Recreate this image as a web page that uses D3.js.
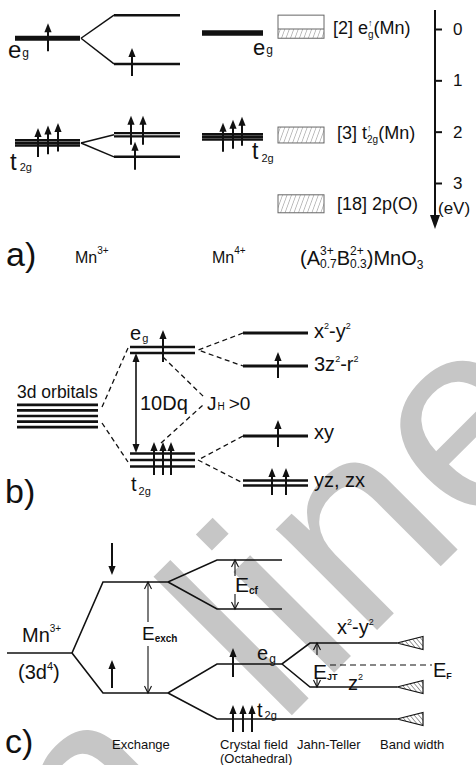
<!DOCTYPE html>
<html>
<head>
<meta charset="utf-8">
<script src="https://cdn.jsdelivr.net/npm/d3@7"></script>
<style>
  body { margin: 0; background: #fff; }
  svg { display: block; }
</style>
</head>
<body>
<div id="fig"></div>
<script>
// ---- data ----
// panel a) energies in eV (0 at top, positive downwards)
const aTicks = [0, 1, 2, 3];
const mn3Levels = [0.18, 2.22];              // e_g, t_2g (cubic)
const mn3Split = [-0.27, 0.68, 2.06, 2.49];   // e_g up, e_g down, t_2g up, t_2g down
const mn4Levels = [0.08, 2.10];               // e_g, t_2g
const bandTop = [-0.27, 1.91, 3.23];          // [2] e_g, [3] t_2g, [18] 2p(O)
const bandBottom = [0.18, 2.22, 3.58];
const bandFilledTop = [0.0, 1.91, 3.23];

// panel b) level heights (arbitrary units, up = higher)
const orb3d = 104;
const cubicB = [170, 60];                     // e_g, t_2g
const splitB = [187, 154, 84, 37];            // x2-y2, 3z2-r2, xy, yz/zx

// panel c) level heights (arbitrary units, up = higher)
const mn3C = 112;
const exchC = [183, 72];                      // spin down, spin up
const cfC = [205, 156, 101, 46];              // upper pair, e_g, t_2g
const jtC = [122, 78];                        // x2-y2, z2
const fermiC = 100;
const stepLabels = ['Exchange', 'Crystal field', 'Jahn-Teller', 'Band width'];

const W = 476, H = 765;
const FONT = 'Liberation Sans, Arial, Helvetica, sans-serif';
const INK = '#111';

const svg = d3.select('#fig').append('svg')
    .attr('width', W).attr('height', H)
    .style('font-family', FONT);

const defs = svg.append('defs');
function hatch(id, dir, gap, color) {
    const p = defs.append('pattern').attr('id', id)
        .attr('patternUnits', 'userSpaceOnUse')
        .attr('width', gap).attr('height', gap)
        .attr('patternTransform', 'rotate(' + dir + ')');
    p.append('line').attr('x1', 0).attr('y1', 0).attr('x2', 0).attr('y2', gap)
        .attr('stroke', color).attr('stroke-width', 0.9);
}
hatch('hatchA', 20, 4.2, '#777');
hatch('hatchC', -40, 3.4, '#222');

// watermark behind everything
[['On', -52, 1059], ['line', 279, 728]].forEach(w => {
    svg.append('text')
        .attr('transform', 'translate(' + w[1] + ',' + w[2] + ') rotate(-45)')
        .attr('font-size', 270)
        .attr('fill', '#c6c6c6')
        .text(w[0]);
});

// ---- helpers ----
function rich(g, x, y, parts) {
    let cx = x, held = 0;
    parts.forEach(p => {
        const t = g.append('text')
            .attr('x', cx + (p.dx || 0))
            .attr('y', y + (p.dy || 0))
            .attr('font-size', p.s)
            .attr('font-weight', p.b ? 'bold' : null)
            .attr('fill', INK)
            .text(p.t);
        const w = t.node().getComputedTextLength() + (p.dx || 0);
        if (p.hold) { held = w; }
        else { cx += Math.max(w, held); held = 0; }
    });
}

function level(g, x1, x2, y, n, gap, w) {
    for (let i = 0; i < n; i++) {
        const yy = y + (i - (n - 1) / 2) * gap;
        g.append('line').attr('x1', x1).attr('x2', x2)
            .attr('y1', yy).attr('y2', yy)
            .attr('stroke', INK).attr('stroke-width', w);
    }
}

function spin(g, x, yTail, yTip, hw, hl) {
    hw = hw || 3.6; hl = hl || 9;
    const dir = yTip < yTail ? -1 : 1;
    g.append('line').attr('x1', x).attr('x2', x)
        .attr('y1', yTail).attr('y2', yTip - dir * hl * 0.7)
        .attr('stroke', INK).attr('stroke-width', 2);
    g.append('path')
        .attr('d', 'M' + x + ',' + yTip + 'L' + (x - hw) + ',' + (yTip - dir * hl) +
            'L' + (x + hw) + ',' + (yTip - dir * hl) + 'Z')
        .attr('fill', INK);
}

// thin double arrow with open heads, optional gap for a label
function openArrow(g, x, y1, y2, gapTop, gapBot) {
    const segs = gapTop ? [[y1, gapTop], [gapBot, y2]] : [[y1, y2]];
    segs.forEach(s => g.append('line').attr('x1', x).attr('x2', x)
        .attr('y1', s[0]).attr('y2', s[1]).attr('stroke', INK).attr('stroke-width', 1.1));
    g.append('path').attr('d', 'M' + (x - 3.5) + ',' + (y1 + 7) + 'L' + x + ',' + y1 + 'L' + (x + 3.5) + ',' + (y1 + 7))
        .attr('fill', 'none').attr('stroke', INK).attr('stroke-width', 1.1);
    g.append('path').attr('d', 'M' + (x - 3.5) + ',' + (y2 - 7) + 'L' + x + ',' + y2 + 'L' + (x + 3.5) + ',' + (y2 - 7))
        .attr('fill', 'none').attr('stroke', INK).attr('stroke-width', 1.1);
}

const line = d3.line();
function poly(g, pts, w, dash) {
    g.append('path').attr('d', line(pts))
        .attr('fill', 'none').attr('stroke', INK)
        .attr('stroke-width', w)
        .attr('stroke-dasharray', dash || null)
        .attr('stroke-linejoin', 'miter');
}

// ================= panel a =================
const ga = svg.append('g');
const yA = d3.scaleLinear().domain([0, 3]).range([29, 183]);

// Mn3+ column
level(ga, 15, 80, yA(mn3Levels[0]), 1, 0, 5);
level(ga, 15, 80, yA(mn3Levels[1]), 3, 2.6, 2.5);
level(ga, 114, 180, yA(mn3Split[0]), 1, 0, 2.5);
level(ga, 114, 180, yA(mn3Split[1]), 1, 0, 2.5);
level(ga, 114, 180, yA(mn3Split[2]), 2, 3.3, 2.3);
level(ga, 114, 180, yA(mn3Split[3]), 1, 0, 2.5);
[[0, 0], [0, 1], [1, 2], [1, 3]].forEach(p => {
    poly(ga, [[81, yA(mn3Levels[p[0]])], [114, yA(mn3Split[p[1]])]], 1.5);
});
spin(ga, 48, yA(mn3Levels[0]) + 13, yA(mn3Levels[0]) - 15);
spin(ga, 132, yA(mn3Split[1]) + 12, yA(mn3Split[1]) - 16);
[38, 48, 58].forEach((x, i) => {
    const y = yA(mn3Levels[1]);
    spin(ga, x, y + 14 - i * 2.7, y - 15 - i * 2.5);
});
[131, 143].forEach(x => {
    const y = yA(mn3Split[2]);
    spin(ga, x, y + 10, y - 19);
});
spin(ga, 135, yA(mn3Split[3]) + 13, yA(mn3Split[3]) - 15);
rich(ga, 8, 58, [{ t: 'e', s: 24 }, { t: 'g', s: 12, dy: -1, dx: 1 }]);
rich(ga, 10, 170, [{ t: 't', s: 24 }, { t: '2g', s: 11, dy: 1, dx: 3 }]);

// Mn4+ column
level(ga, 202, 263, yA(mn4Levels[0]), 1, 0, 5.5);
level(ga, 202, 263, yA(mn4Levels[1]), 3, 2.6, 2.5);
[223, 233, 242].forEach((x, i) => {
    const y = yA(mn4Levels[1]);
    spin(ga, x, y + 15 - i * 3, y - 14 - i * 3);
});
rich(ga, 253, 55, [{ t: 'e', s: 22 }, { t: 'g', s: 12, dy: -1, dx: 1 }]);
rich(ga, 252, 159, [{ t: 't', s: 23 }, { t: '2g', s: 11, dy: 3, dx: 3 }]);

// band boxes
bandTop.forEach((t, i) => {
    ga.append('rect').attr('x', 278).attr('width', 46)
        .attr('y', yA(bandFilledTop[i]))
        .attr('height', yA(bandBottom[i]) - yA(bandFilledTop[i]))
        .attr('fill', 'url(#hatchA)');
    ga.append('rect').attr('x', 278).attr('width', 46)
        .attr('y', yA(t)).attr('height', yA(bandBottom[i]) - yA(t))
        .attr('fill', 'none').attr('stroke', '#666').attr('stroke-width', 1);
});
ga.append('line').attr('x1', 278).attr('x2', 324)
    .attr('y1', yA(bandFilledTop[0])).attr('y2', yA(bandFilledTop[0]))
    .attr('stroke', '#666').attr('stroke-width', 1);
rich(ga, 333, 34, [{ t: '[2] e', s: 18 }, { t: '\u2191', s: 9, dy: -8, hold: true }, { t: 'g', s: 10, dy: 4 }, { t: '(Mn)', s: 18 }]);
rich(ga, 337, 139, [{ t: '[3] t', s: 18 }, { t: '\u2191', s: 9, dy: -8, hold: true }, { t: '2g', s: 10, dy: 4 }, { t: '(Mn)', s: 18 }]);
rich(ga, 337, 210, [{ t: '[18] 2p(O)', s: 18 }]);

// energy axis
const axA = ga.append('g').attr('transform', 'translate(435,0)')
    .call(d3.axisRight(yA).tickValues(aTicks).tickSize(7).tickSizeOuter(0).tickPadding(11).tickFormat(d3.format('d')));
axA.select('.domain').remove();
axA.selectAll('.tick line').attr('stroke', INK).attr('stroke-width', 2);
axA.selectAll('.tick text').attr('font-size', 17).attr('font-family', FONT).attr('fill', INK);
ga.append('line').attr('x1', 435).attr('x2', 435).attr('y1', 10).attr('y2', 217)
    .attr('stroke', INK).attr('stroke-width', 2);
ga.append('path').attr('d', 'M430,215L440,215L435,229Z').attr('fill', INK);
rich(ga, 438, 214, [{ t: '(eV)', s: 17 }]);

// captions row
rich(ga, 6, 266, [{ t: 'a)', s: 34 }]);
rich(ga, 75, 263, [{ t: 'Mn', s: 16 }, { t: '3+', s: 10, dy: -9 }]);
rich(ga, 212, 263, [{ t: 'Mn', s: 16 }, { t: '4+', s: 10, dy: -9 }]);
rich(ga, 300, 265, [
    { t: '(A', s: 20 }, { t: '3+', s: 12, dy: -10, hold: true }, { t: '0.7', s: 12, dy: 3 },
    { t: 'B', s: 20 }, { t: '2+', s: 12, dy: -10, hold: true }, { t: '0.3', s: 12, dy: 3 },
    { t: ')MnO', s: 20 }, { t: '3', s: 12, dy: 4 }
]);

// ================= panel b =================
const gb = svg.append('g');
const yB = d3.scaleLinear().domain([0, 100]).range([520, 420]);

level(gb, 17, 98, yB(orb3d), 5, 5.6, 2.7);
level(gb, 130, 195, yB(cubicB[0]), 2, 6, 2.6);
level(gb, 130, 195, yB(cubicB[1]), 3, 6.5, 2.6);
level(gb, 243, 308, yB(splitB[0]), 1, 0, 2.8);
level(gb, 243, 308, yB(splitB[1]), 1, 0, 2.8);
level(gb, 243, 308, yB(splitB[2]), 1, 0, 2.8);
level(gb, 243, 308, yB(splitB[3]), 2, 5, 2.6);

const dashB = '5,3.5';
poly(gb, [[102, yB(orb3d) - 9], [128, yB(cubicB[0]) - 2]], 1.3, dashB);
poly(gb, [[102, yB(orb3d) + 7], [128, yB(cubicB[1]) + 2]], 1.3, dashB);
poly(gb, [[243, yB(splitB[0])], [198, yB(cubicB[0])], [243, yB(splitB[1])]], 1.3, dashB);
poly(gb, [[243, yB(splitB[2])], [198, yB(cubicB[1])], [243, yB(splitB[3])]], 1.3, dashB);
poly(gb, [[163, yB(cubicB[0]) + 7], [204, yB(cubicB[0]) + 47]], 1.3, dashB);
poly(gb, [[161, yB(cubicB[1]) - 17], [203, yB(cubicB[1]) - 55]], 1.3, dashB);

// 10Dq double arrow (filled heads)
{
    const x = 136, y1 = yB(cubicB[0]) + 3, y2 = yB(cubicB[1]) - 7;
    gb.append('line').attr('x1', x).attr('x2', x).attr('y1', y1 + 6).attr('y2', y2 - 6)
        .attr('stroke', INK).attr('stroke-width', 1.6);
    gb.append('path').attr('d', 'M' + x + ',' + y1 + 'L' + (x - 3.5) + ',' + (y1 + 9) + 'L' + (x + 3.5) + ',' + (y1 + 9) + 'Z').attr('fill', INK);
    gb.append('path').attr('d', 'M' + x + ',' + y2 + 'L' + (x - 3.5) + ',' + (y2 - 9) + 'L' + (x + 3.5) + ',' + (y2 - 9) + 'Z').attr('fill', INK);
}

spin(gb, 163, yB(cubicB[0]) + 12, yB(cubicB[0]) - 20);
[154, 163, 171].forEach(x => spin(gb, x, yB(cubicB[1]) + 15, yB(cubicB[1]) - 18));
spin(gb, 278, yB(splitB[1]) + 12, yB(splitB[1]) - 14);
spin(gb, 278, yB(splitB[2]) + 11, yB(splitB[2]) - 16);
[272, 286].forEach(x => spin(gb, x, yB(splitB[3]) + 12, yB(splitB[3]) - 15));

rich(gb, 17, 398, [{ t: '3d orbitals', s: 17.5 }]);
rich(gb, 130, 340, [{ t: 'e', s: 20 }, { t: 'g', s: 11, dy: 2, dx: 1 }]);
rich(gb, 131, 491, [{ t: 't', s: 20 }, { t: '2g', s: 11, dy: 4, dx: 2 }]);
rich(gb, 140, 410, [{ t: '10Dq', s: 20 }]);
rich(gb, 207, 410, [{ t: 'J', s: 19 }, { t: 'H', s: 10, dy: 0, dx: 1 }, { t: '>0', s: 19, dx: 4 }]);
const supB = [
    [{ t: 'x', s: 20 }, { t: '2', s: 9, dy: -9 }, { t: '-y', s: 20 }, { t: '2', s: 9, dy: -9 }],
    [{ t: '3z', s: 20 }, { t: '2', s: 9, dy: -9 }, { t: '-r', s: 20 }, { t: '2', s: 9, dy: -9 }],
    [{ t: 'xy', s: 20 }],
    [{ t: 'yz, zx', s: 20 }]
];
const baseOffB = [5, 5, 3, 4];
splitB.forEach((v, i) => rich(gb, 314, yB(v) + baseOffB[i], supB[i]));
rich(gb, 5, 503, [{ t: 'b)', s: 34 }]);

// ================= panel c =================
const gc = svg.append('g');
const yC = d3.scaleLinear().domain([0, 100]).range([765, 665]);
const cx = { start: 7, fork: 72, exL: 103, exR: 168, cfL: 217, cfR: 282, jtL: 310, end: 397, tri: 423 };

poly(gc, [[cx.start, yC(mn3C)], [cx.fork, yC(mn3C)]], 1.6);
poly(gc, [[cx.fork, yC(mn3C)], [cx.exL, yC(exchC[0])], [cx.exR, yC(exchC[0])], [cx.cfL, yC(cfC[0])], [cx.cfR, yC(cfC[0])]], 1.6);
poly(gc, [[cx.exR, yC(exchC[0])], [cx.cfL, yC(cfC[1])], [cx.cfR, yC(cfC[1])]], 1.6);
poly(gc, [[cx.fork, yC(mn3C)], [cx.exL, yC(exchC[1])], [cx.exR, yC(exchC[1])], [cx.cfL, yC(cfC[2])], [cx.cfR, yC(cfC[2])], [cx.jtL, yC(jtC[0])], [cx.end, yC(jtC[0])]], 1.6);
poly(gc, [[cx.cfR, yC(cfC[2])], [cx.jtL, yC(jtC[1])], [cx.end, yC(jtC[1])]], 1.6);
poly(gc, [[cx.exR, yC(exchC[1])], [cx.cfL, yC(cfC[3])], [cx.end, yC(cfC[3])]], 1.6);
poly(gc, [[330, yC(fermiC)], [432, yC(fermiC)]], 1.2, '6,4');

// band-width wedges
[jtC[0], jtC[1], cfC[3]].forEach(v => {
    const y = yC(v);
    gc.append('path')
        .attr('d', 'M' + cx.end + ',' + y + 'L' + cx.tri + ',' + (y - 6.5) + 'L' + cx.tri + ',' + (y + 6.5) + 'Z')
        .attr('fill', 'url(#hatchC)').attr('stroke', INK).attr('stroke-width', 1.2);
});

openArrow(gc, 148, yC(exchC[0]), yC(exchC[1]), 622, 646);
openArrow(gc, 235, yC(cfC[0]), yC(cfC[1]), 576, 594);
openArrow(gc, 317, yC(jtC[0]), yC(jtC[1]), 655, 679);

spin(gc, 112, 543, yC(exchC[0]) - 7);
spin(gc, 112, yC(exchC[1]) - 5, yC(exchC[1]) - 33);
spin(gc, 233, yC(cfC[2]) + 13, yC(cfC[2]) - 16);
[233, 243, 252].forEach(x => spin(gc, x, yC(cfC[3]) + 13, yC(cfC[3]) - 14));

rich(gc, 22, 642, [{ t: 'Mn', s: 20 }, { t: '3+', s: 10, dy: -10 }]);
rich(gc, 18, 679, [{ t: '(3d', s: 20 }, { t: '4', s: 11, dy: -9 }, { t: ')', s: 20 }]);
rich(gc, 142, 640, [{ t: 'E', s: 19 }, { t: 'exch', s: 10, dy: 2, b: true }]);
rich(gc, 235, 592, [{ t: 'E', s: 21 }, { t: 'cf', s: 10, dy: 2, b: true }]);
rich(gc, 313, 679, [{ t: 'E', s: 21 }, { t: 'JT', s: 9, dy: 1, b: true }]);
rich(gc, 433, 677, [{ t: 'E', s: 20 }, { t: 'F', s: 9, dy: 2, b: true }]);
rich(gc, 257, 660, [{ t: 'e', s: 20 }, { t: 'g', s: 12, dy: 3, dx: 1 }]);
rich(gc, 257, 717, [{ t: 't', s: 20 }, { t: '2g', s: 11, dy: 2, dx: 2 }]);
rich(gc, 337, 634, [{ t: 'x', s: 20 }, { t: '2', s: 9, dy: -9 }, { t: '-y', s: 20 }, { t: '2', s: 9, dy: -9 }]);
rich(gc, 348, 690, [{ t: 'z', s: 20 }, { t: '2', s: 9, dy: -10 }]);

const stepX = [112, 220, 297, 380];
stepLabels.forEach((s, i) => rich(gc, stepX[i], 749, [{ t: s, s: 13 }]));
rich(gc, 220, 763, [{ t: '(Octahedral)', s: 13 }]);
rich(gc, 5, 753, [{ t: 'c)', s: 34 }]);
</script>
</body>
</html>
